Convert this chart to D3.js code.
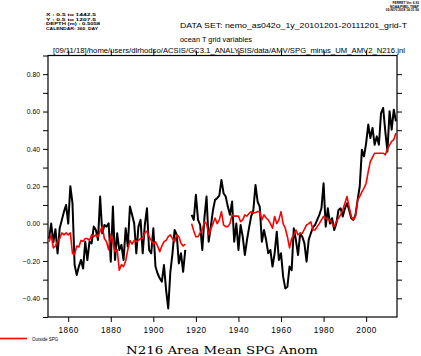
<!DOCTYPE html>
<html><head><meta charset="utf-8">
<script src="https://cdn.jsdelivr.net/npm/d3@7"></script>
<style>html,body{margin:0;padding:0;background:#fff;}svg{display:block;}</style>
</head><body>
<svg id="c" width="421" height="356"></svg>
<script>
// ---- data ----
const yearsEarly = d3.range(1851, 1916);
const yearsGap = [1916, 1917];
const yearsLate = d3.range(1918, 2015);

const blackEarly = [
 -0.08, 0.00, -0.10, -0.03, -0.16, -0.025, 0.02, 0.064, 0.10, 0.0,
 0.20, 0.11, -0.22, -0.275, -0.23, -0.195, -0.24, -0.097, -0.195, -0.097,
 -0.106, -0.016, -0.034, -0.088, 0.145, -0.052, -0.007, -0.016, 0.002, -0.204,
 0.091, -0.195, -0.052, -0.141, -0.114, -0.195, -0.025, -0.123, 0.091, 0.047,
 0.002, -0.159, -0.016, 0.02, -0.159, -0.007, 0.082, -0.141, -0.159, -0.025,
 -0.23, -0.267, -0.293, -0.311, -0.222, -0.356, -0.454, -0.258, -0.159, -0.034,
 -0.061, -0.213, -0.159, -0.258, -0.141];
const blackLate = [
 0.047, 0.02, 0.154, 0.02, -0.007, -0.141, 0.029, 0.145, -0.097, -0.016,
 0.07, 0.127, 0.136, 0.15, 0.234, 0.163, 0.145, 0.091, 0.047, 0.118,
 -0.097, 0.0, -0.141, -0.007, -0.07, -0.168, -0.088, -0.02, 0.04, 0.073,
 0.207, 0.118, 0.091, -0.097, -0.034, -0.088, -0.159, -0.141, -0.23, -0.159,
 -0.043, -0.195, -0.159, -0.284, -0.347, -0.338, -0.23, -0.249, -0.025, -0.088,
 -0.168, -0.052, -0.07, -0.106, -0.204, -0.088, -0.052, -0.02, -0.007, 0.02,
 0.047, 0.082, 0.216, -0.016, 0.082, 0.0, 0.029, -0.034, 0.0, 0.073,
 0.082, 0.038, 0.08, 0.109, 0.073, 0.029, 0.02, 0.047, 0.127, 0.20,
 0.395, 0.36, 0.431, 0.53, 0.458, 0.512, 0.422, 0.467, 0.422, 0.592,
 0.619, 0.494, 0.386, 0.601, 0.503, 0.61, 0.547];
const redEarly = [
 -0.097, -0.06, -0.13, -0.12, -0.097, -0.08, -0.05, -0.06, -0.05, -0.06,
 -0.05, -0.16, -0.165, -0.12, -0.125, -0.09, -0.095, -0.08, -0.08, -0.09,
 -0.06, -0.07, -0.06, -0.07, -0.04, -0.016, -0.08, -0.097, -0.14, -0.06,
 -0.097, -0.15, -0.14, -0.25, -0.22, -0.23, -0.2, -0.14, -0.09, -0.11,
 -0.09, -0.097, -0.09, -0.08, -0.08, -0.05, -0.04, -0.07, -0.09, -0.11,
 -0.097, -0.12, -0.15, -0.12, -0.097, -0.09, -0.07, -0.06, -0.08, -0.097,
 -0.06, -0.07, -0.105, -0.12, -0.11];
const redLate = [
 0.0, -0.04, -0.07, -0.07, -0.05, -0.034, 0.01, 0.0, -0.06, -0.03,
 0.0, 0.03, 0.0, 0.02, 0.064, -0.007, -0.016, -0.016, 0.0, 0.047,
 0.04, 0.04, 0.04, 0.01, 0.02, 0.047, 0.04, 0.055, 0.064, 0.055,
 0.06, 0.064, 0.064, 0.02, 0.047, 0.03, 0.02, 0.0, -0.025, 0.038,
 0.0, 0.02, 0.064, 0.0, -0.025, -0.07, -0.13, -0.08, -0.06, -0.034,
 -0.06, -0.052, -0.052, -0.03, -0.007, 0.0, 0.01, -0.034, -0.034, -0.016,
 0.0, 0.02, 0.038, 0.03, 0.02, 0.02, 0.0, -0.016, 0.01, 0.03,
 0.047, 0.073, 0.109, 0.145, 0.09, 0.038, 0.02, 0.04, 0.127, 0.145,
 0.17, 0.19, 0.216, 0.28, 0.333, 0.355, 0.377, 0.377, 0.377, 0.377,
 0.377, 0.368, 0.40, 0.42, 0.44, 0.45, 0.485];

const xTickValues = [1860, 1880, 1900, 1920, 1940, 1960, 1980, 2000];
const yTickValues = [-0.4, -0.2, 0.0, 0.2, 0.4, 0.6, 0.8];
const yMinorValues = [-0.5, -0.3, -0.1, 0.1, 0.3, 0.5, 0.7, 0.9];

const headerLeft = ["X : 0.5 to 1442.5", "Y : 0.5 to 1207.5", "DEPTH (m) : 0.5058", "CALENDAR: 360_DAY"];
const headerRight = ["FERRET Ver. 6.93", "NOAA/PMEL TMAP", "09-NOV-2018 14:31:56"];
const dataSetText = "DATA SET: nemo_as042o_1y_20101201-20111201_grid-T";
const varText = "ocean T grid variables";
const jnlText = "[09/11/18]/home/users/dlrhodso/ACSIS/GC3.1_ANALYSIS/data/AMV/SPG_minus_UM_AMV2_N216.jnl";
const legendLabel = "Outside SPG";
const titleText = "N216 Area Mean SPG Anom";

// ---- build ----
const years = yearsEarly.concat(yearsGap, yearsLate);
const black = blackEarly.concat([null, null], blackLate);
const red = redEarly.concat([null, null], redLate);

const svg = d3.select("#c");
const L = 48, R = 397, T = 55.5, B = 317;
const x = d3.scaleLinear().domain([1850.5, 2014.5]).range([L, R]);
const y = d3.scaleLinear().domain([-0.5, 0.9]).range([B, T]);

const sans = "Liberation Sans, Arial, sans-serif";

// header text
const headerLeftWidths = [50, 50, 54, 52];
const hl = svg.append("g").attr("font-family", sans).attr("font-size", 4.4).attr("font-weight", "bold");
headerLeft.forEach((t, i) => hl.append("text").attr("x", 46).attr("y", 16 + i * 4.5)
  .attr("textLength", headerLeftWidths[i]).attr("lengthAdjust", "spacingAndGlyphs").text(t));
const hr = svg.append("g").attr("font-family", sans).attr("font-size", 3.2).attr("font-weight", "bold").attr("text-anchor", "end");
headerRight.forEach((t, i) => hr.append("text").attr("x", 419).attr("y", 4 + i * 3.6).text(t));

svg.append("text").attr("x", 180).attr("y", 27.5).attr("font-family", sans).attr("font-size", 7.2)
  .attr("textLength", 227).attr("lengthAdjust", "spacingAndGlyphs").text(dataSetText);
svg.append("text").attr("x", 180).attr("y", 41.5).attr("font-family", sans).attr("font-size", 7.2)
  .attr("textLength", 72).attr("lengthAdjust", "spacingAndGlyphs").text(varText);
svg.append("text").attr("x", 53).attr("y", 52.5).attr("font-family", sans).attr("font-size", 6.8)
  .attr("textLength", 352).attr("lengthAdjust", "spacingAndGlyphs").text(jnlText);

// axes
const gL = svg.append("g").attr("transform", `translate(${L},0)`)
  .call(d3.axisLeft(y).tickValues(yTickValues).tickSize(5).tickSizeOuter(0).tickPadding(3).tickFormat(d3.format(".2f")));
const gLm = svg.append("g").attr("transform", `translate(${L},0)`)
  .call(d3.axisLeft(y).tickValues(yMinorValues).tickSize(5).tickSizeOuter(0).tickFormat(""));
const gR = svg.append("g").attr("transform", `translate(${R},0)`)
  .call(d3.axisRight(y).tickValues(yTickValues).tickSize(5).tickSizeOuter(0).tickFormat(""));
const gRm = svg.append("g").attr("transform", `translate(${R},0)`)
  .call(d3.axisRight(y).tickValues(yMinorValues.slice(1, -1)).tickSize(5).tickSizeOuter(0).tickFormat(""));
const gB = svg.append("g").attr("transform", `translate(0,${B})`)
  .call(d3.axisBottom(x).tickValues(xTickValues).tickSize(5).tickSizeOuter(0).tickPadding(5).tickFormat(d3.format("d")));
const gT = svg.append("g").attr("transform", `translate(0,${T})`)
  .call(d3.axisTop(x).tickValues(xTickValues).tickSize(5).tickSizeOuter(0).tickFormat(""));

[gL, gLm, gR, gRm, gB, gT].forEach(g => {
  g.select(".domain").remove();
  g.selectAll("line").attr("stroke", "#000").attr("stroke-width", 1);
});
gL.selectAll("text").attr("font-family", sans).attr("font-size", 6.8).attr("fill", "#000");
gB.selectAll("text").attr("font-family", sans).attr("font-size", 8.2).attr("fill", "#000").attr("letter-spacing", 0.6);

// frame
svg.append("rect").attr("x", L).attr("y", T).attr("width", R - L).attr("height", B - T)
  .attr("fill", "none").attr("stroke", "#000").attr("stroke-width", 1.2);

// lines
const pts = vals => years.map((yr, i) => ({year: yr, v: vals[i]}));
const line = d3.line().defined(d => d.v !== null).x(d => x(d.year)).y(d => y(d.v));
svg.append("path").datum(pts(black)).attr("d", line).attr("fill", "none")
  .attr("stroke", "#000").attr("stroke-width", 2).attr("stroke-linejoin", "round");
svg.append("path").datum(pts(red)).attr("d", line).attr("fill", "none")
  .attr("stroke", "#ff0000").attr("stroke-width", 1.6).attr("stroke-linejoin", "round");

// legend
svg.append("line").attr("x1", 0).attr("x2", 27).attr("y1", 338.5).attr("y2", 338.5)
  .attr("stroke", "#ff0000").attr("stroke-width", 1.6);
svg.append("text").attr("x", 32).attr("y", 340.5).attr("font-family", sans).attr("font-size", 4.5).text(legendLabel);

// title
svg.append("text").attr("x", 126).attr("y", 353.5).attr("font-family", "DejaVu Serif, Liberation Serif, serif")
  .attr("font-size", 11).attr("textLength", 192).attr("lengthAdjust", "spacingAndGlyphs").text(titleText);
</script>
</body></html>
